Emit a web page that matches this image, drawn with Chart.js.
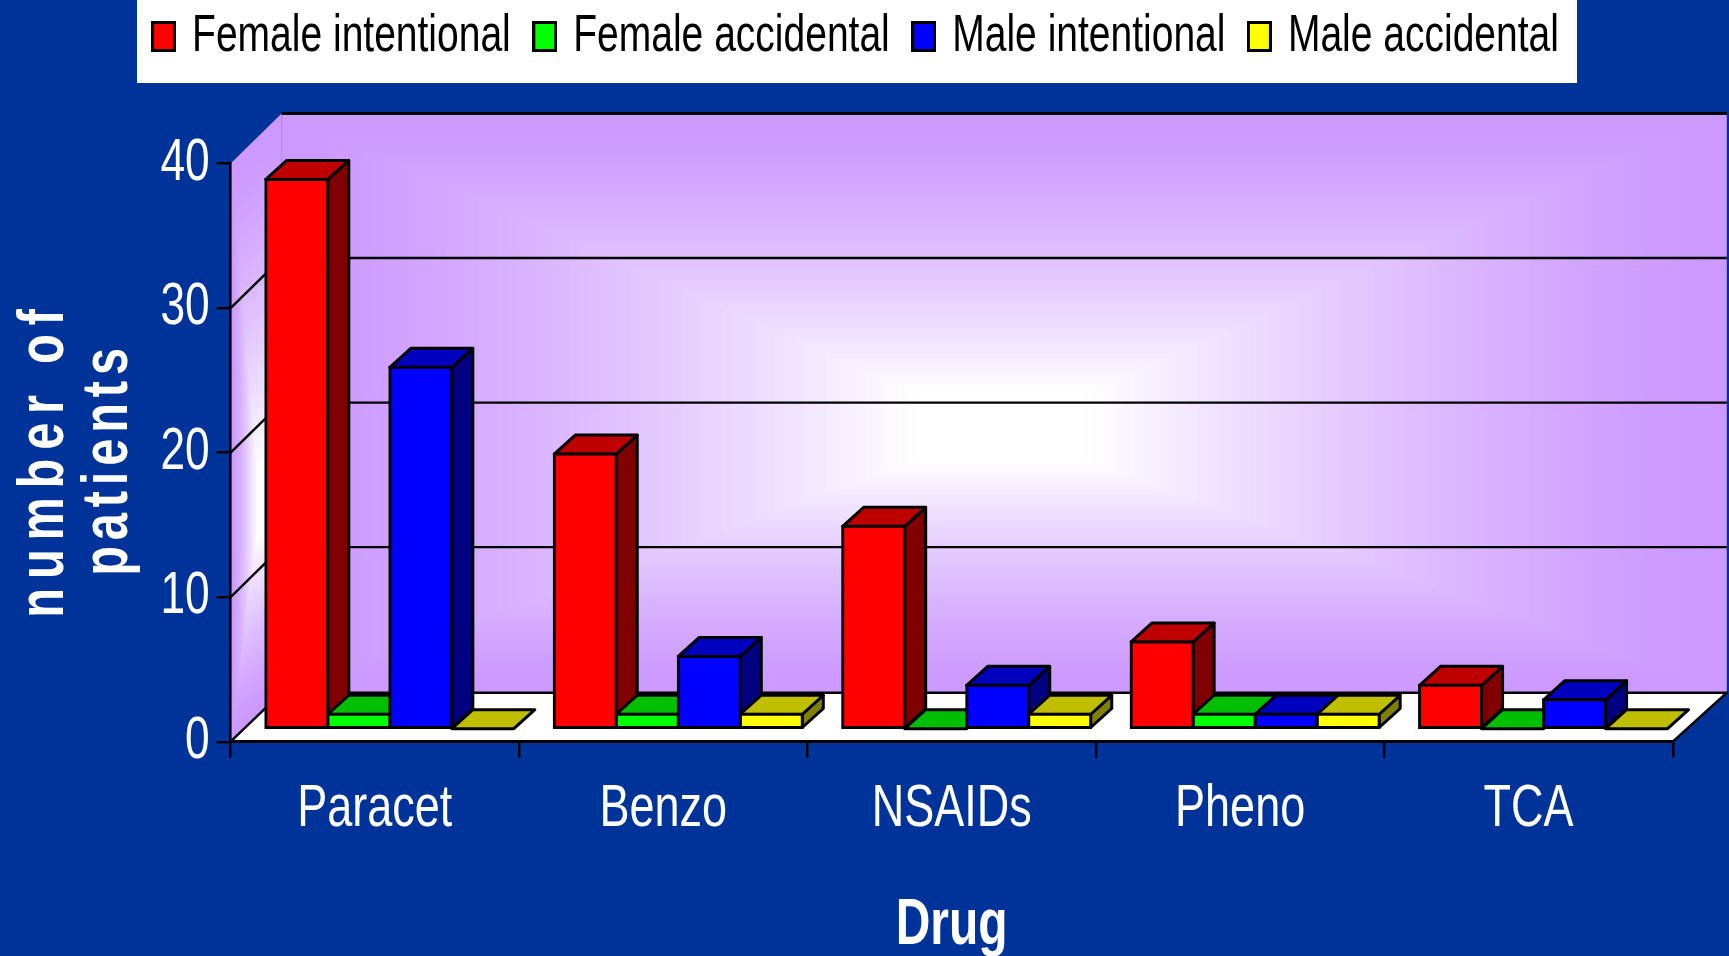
<!DOCTYPE html>
<html>
<head>
<meta charset="utf-8">
<title>Drug chart</title>
<script src="https://cdn.jsdelivr.net/npm/chart.js@4"></script>
<style>
    html, body { margin: 0; padding: 0; background: #003399; overflow: hidden; }
    canvas { display: block; }
</style>
</head>
<body>
<canvas id="myChart" width="1729" height="956"></canvas>
<script>
const drugs = ['Paracet', 'Benzo', 'NSAIDs', 'Pheno', 'TCA'];
const femaleIntentional = [38, 19, 14, 6, 3];
const femaleAccidental = [1, 1, 0, 1, 0];
const maleIntentional = [25, 5, 3, 1, 2];
const maleAccidental = [0, 1, 1, 1, 0];
const yTitleLines = ['number of', 'patients'];

const fontName = '"Liberation Sans", Arial, sans-serif';
const background = '#003399';
const wallColor = [204, 153, 255];

// front, top and side colours of the 3D bars
const faces = [
    { front: '#ff0000', top: '#bf0000', side: '#800000' },
    { front: '#00ff00', top: '#00bf00', side: '#008000' },
    { front: '#0000ff', top: '#0000bf', side: '#000080' },
    { front: '#ffff00', top: '#bfbf00', side: '#808000' }
];

const canvas = document.getElementById('myChart');
const chartCtx = canvas.getContext('2d');

// the original text is a squeezed Arial and there is no narrow font here,
// so all text on this context is drawn and measured 3/4 wide
const squeeze = 0.75;
const rawFillText = chartCtx.fillText.bind(chartCtx);
const rawMeasureText = chartCtx.measureText.bind(chartCtx);
chartCtx.fillText = function (text, x, y, maxWidth) {
    chartCtx.save();
    chartCtx.translate(x, y);
    chartCtx.scale(squeeze, 1);
    if (maxWidth === undefined) {
        rawFillText(text, 0, 0);
    } else {
        rawFillText(text, 0, 0, maxWidth / squeeze);
    }
    chartCtx.restore();
};
chartCtx.measureText = function (text) {
    return { width: rawMeasureText(text).width * squeeze };
};

function polygon(ctx, points, fill, stroke) {
    ctx.beginPath();
    points.forEach((p, i) => i ? ctx.lineTo(p[0], p[1]) : ctx.moveTo(p[0], p[1]));
    ctx.closePath();
    if (fill) {
        ctx.fillStyle = fill;
        ctx.fill();
    }
    if (stroke) {
        ctx.strokeStyle = stroke;
        ctx.stroke();
    }
}

// path gradient: purple at the outline, white in the centre
function gradientWall(ctx, points, cx, cy) {
    const steps = 70;
    for (let s = 0; s < steps; s++) {
        const t = 1 - s / steps;
        const mix = Math.min(1, Math.pow(1 - t, 1.4) * 1.2);
        const c = wallColor.map(v => Math.round(v + (255 - v) * mix));
        const pts = points.map(p => [cx + (p[0] - cx) * t, cy + (p[1] - cy) * t]);
        polygon(ctx, pts, `rgb(${c[0]},${c[1]},${c[2]})`);
    }
}

// legend swatch, a little wider than the gap the legend leaves for it
function makeSwatch(color) {
    const c = document.createElement('canvas');
    c.width = 25;
    c.height = 31;
    const g = c.getContext('2d');
    g.fillStyle = color;
    g.fillRect(0, 0, 25, 31);
    g.strokeStyle = '#000000';
    g.lineWidth = 3;
    g.strokeRect(1.5, 1.5, 22, 28);
    return c;
}

const depthX = 51;
const depthY = 50;
const barDepthX = 21;
const barDepthY = 19;
const barShiftX = 15;
const barShiftY = -13;

const scenePlugin = {
    id: 'scene',
    afterLayout(chart) {
        // legend sits in the white strip on top, above the padding
        chart.legend.top = -21;
        chart.legend.left = 0;
        chart.legend.right = 1720;
    },
    beforeDraw(chart) {
        const ctx = chart.ctx;
        const { left, right, bottom, top } = chart.chartArea;
        const yScale = chart.scales.y;

        ctx.save();
        ctx.fillStyle = background;
        ctx.fillRect(0, 0, chart.width, chart.height);
        ctx.fillStyle = '#ffffff';
        ctx.fillRect(137, 0, 1440, 83);

        const backL = left + depthX;
        const backR = right + 54;
        const backT = top - depthY;
        const backB = bottom - depthY + 1;

        gradientWall(ctx, [[backL, backT], [backR, backT], [backR, backB], [backL, backB]], 1000, 430);
        gradientWall(ctx, [[left, top], [backL, backT], [backL, backB], [left, bottom]], left + 30, 510);

        // floor
        ctx.lineWidth = 2.4;
        ctx.lineJoin = 'round';
        polygon(ctx, [[left, bottom], [backL, backB], [backR, backB], [right, bottom]], '#ffffff', '#000000');

        // grid on the walls
        ctx.strokeStyle = '#000000';
        ctx.beginPath();
        yScale.ticks.forEach(tick => {
            if (tick.value === 0 || tick.value === 40) return;
            const y = yScale.getPixelForValue(tick.value);
            ctx.moveTo(left, y);
            ctx.lineTo(backL, y - depthY);
            ctx.lineTo(backR, y - depthY);
        });
        ctx.stroke();
        ctx.lineWidth = 3;
        ctx.beginPath();
        ctx.moveTo(backL, backT);
        ctx.lineTo(backR, backT);
        ctx.stroke();

        // rotated y title, spaced out like the original
        ctx.translate(0, 459);
        ctx.rotate(-Math.PI / 2);
        ctx.fillStyle = '#ffffff';
        ctx.font = 'bold 65px ' + fontName;
        ctx.textAlign = 'center';
        ctx.textBaseline = 'alphabetic';
        ctx.letterSpacing = '11.7px';
        ctx.fillText(yTitleLines[0], 0, 63);
        ctx.letterSpacing = '7.8px';
        ctx.fillText(yTitleLines[1], 0, 127);
        ctx.restore();
    },
    beforeDatasetsDraw(chart) {
        const ctx = chart.ctx;
        ctx.save();
        ctx.translate(barShiftX, barShiftY);
        ctx.lineWidth = 3;
        ctx.lineJoin = 'round';
        // top and side faces, fronts are drawn after by the bar controller
        drugs.forEach((drug, i) => {
            chart.data.datasets.forEach((ds, d) => {
                const bar = chart.getDatasetMeta(d).data[i];
                const x0 = bar.x - bar.width / 2;
                const x1 = bar.x + bar.width / 2;
                if (bar.base - bar.y > 0) {
                    polygon(ctx, [[x1, bar.y], [x1 + barDepthX, bar.y - barDepthY],
                        [x1 + barDepthX, bar.base - barDepthY], [x1, bar.base]], faces[d].side, '#000000');
                }
                polygon(ctx, [[x0, bar.y], [x0 + barDepthX, bar.y - barDepthY],
                    [x1 + barDepthX, bar.y - barDepthY], [x1, bar.y]], faces[d].top, '#000000');
            });
        });
    },
    afterDatasetsDraw(chart) {
        chart.ctx.restore();
    }
};

function makeDataset(label, data, idx) {
    return {
        label: label,
        data: data,
        backgroundColor: faces[idx].front,
        borderColor: '#000000',
        borderWidth: 3,
        borderSkipped: false,
        inflateAmount: 1.5,
        categoryPercentage: 0.86,
        barPercentage: 1,
        clip: false,
        pointStyle: makeSwatch(faces[idx].front)
    };
}

new Chart(canvas, {
    type: 'bar',
    data: {
        labels: drugs,
        datasets: [
            makeDataset('Female intentional', femaleIntentional, 0),
            makeDataset('Female accidental', femaleAccidental, 1),
            makeDataset('Male intentional', maleIntentional, 2),
            makeDataset('Male accidental', maleAccidental, 3)
        ]
    },
    plugins: [scenePlugin],
    options: {
        responsive: false,
        animation: false,
        layout: { padding: { top: 70, right: 56.2, left: 0, bottom: 0 } },
        plugins: {
            legend: {
                position: 'top',
                labels: {
                    color: '#000000',
                    font: { family: fontName, size: 52 },
                    usePointStyle: true,
                    pointStyleWidth: 5,
                    boxHeight: 31,
                    padding: 31.5
                }
            },
            tooltip: { enabled: false }
        },
        scales: {
            x: {
                afterFit(scale) { scale.height = 214.3; },
                grid: { drawOnChartArea: false, color: '#000000', lineWidth: 2.4, tickLength: 16, offset: true },
                border: { color: '#000000', width: 2.6 },
                ticks: { color: '#ffffff', font: { family: fontName, size: 60 }, padding: 16, maxRotation: 0 },
                title: {
                    display: true,
                    text: 'Drug',
                    color: '#ffffff',
                    font: { family: fontName, size: 64, weight: 'bold' },
                    padding: { top: 16, bottom: -9 }
                }
            },
            y: {
                min: 0,
                max: 40,
                afterFit(scale) { scale.width = 230.6; },
                grid: { drawOnChartArea: false, color: '#000000', lineWidth: 2.4, tickLength: 14 },
                border: { color: '#000000', width: 2.6 },
                ticks: { color: '#ffffff', font: { family: fontName, size: 59 }, padding: 7, stepSize: 10 }
            }
        }
    }
});
</script>
</body>
</html>
